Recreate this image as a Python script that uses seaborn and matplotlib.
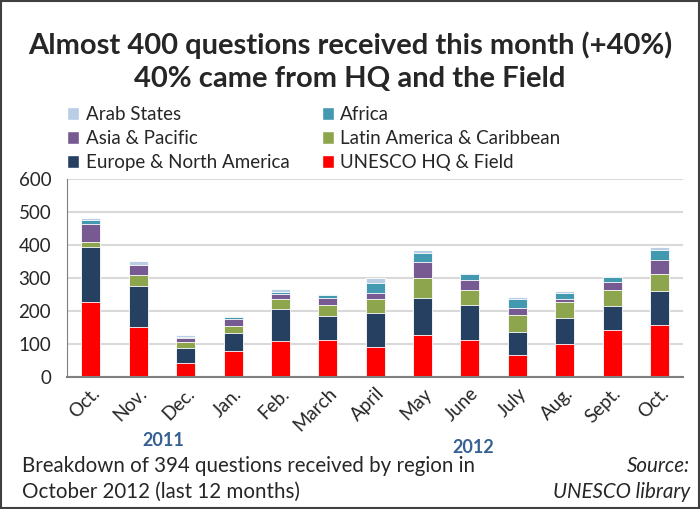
import matplotlib
matplotlib.use("Agg")
import matplotlib.pyplot as plt
from matplotlib.patches import Patch, Rectangle
import numpy as np
import pandas as pd
import seaborn as sns

months = ["Oct.", "Nov.", "Dec.", "Jan.", "Feb.", "March", "April", "May",
          "June", "July", "Aug.", "Sept.", "Oct."]
unesco = [227, 151, 42, 78, 110, 113, 92, 128, 114, 67, 100, 144, 158]
europe = [167, 125, 46, 56, 96, 72, 103, 112, 104, 69, 79, 72, 102]
latin = [15, 35, 20, 22, 30, 33, 43, 62, 47, 51, 48, 49, 54]
asia = [56, 28, 10, 19, 15, 22, 17, 47, 29, 24, 10, 24, 41]
africa = [10, 0, 4, 6, 7, 8, 29, 28, 19, 27, 18, 15, 30]
arab = [8, 12, 5, 4, 10, 4, 17, 7, 2, 4, 6, 2, 9]

series = ["UNESCO HQ & Field", "Europe & North America", "Latin America & Caribbean",
          "Asia & Pacific", "Africa", "Arab States"]
values = [unesco, europe, latin, asia, africa, arab]
colors = ["#ff0000", "#254061", "#8da64d", "#765a91", "#4399b0", "#b9cde5"]

sns.set_style("white")
plt.rcParams["font.family"] = ["Lato", "DejaVu Sans"]

fig = plt.figure(figsize=(7, 5.09), dpi=100)
ax = fig.add_axes([0.096, 0.259, 0.88, 0.389])

pos = [f"{i:02d}" for i in range(len(months))]
cum = np.cumsum(np.array(values), axis=0)
# draw tallest cumulative first, smaller ones on top
for k in range(len(series) - 1, -1, -1):
    df = pd.DataFrame({"m": pos, "v": cum[k]})
    sns.barplot(data=df, x="m", y="v", color=colors[k], width=0.4,
                edgecolor="white", linewidth=0.6, saturation=1, ax=ax)

ax.set_ylim(0, 600)
ax.set_yticks(range(0, 601, 100))
ax.yaxis.grid(True, color="#d9d9d9", linewidth=1.5)
ax.set_axisbelow(True)
ax.set_xlabel("")
ax.set_ylabel("")
ax.set_xticks(range(len(months)))
ax.set_xticklabels(months, rotation=45, ha="right", rotation_mode="anchor", fontsize=13.5)
ax.tick_params(axis="y", labelsize=13.5, pad=8)
ax.tick_params(axis="x", pad=2)
for s in ["top", "right"]:
    ax.spines[s].set_visible(False)
ax.spines["left"].set_color("#7f7f7f")
ax.spines["bottom"].set_color("#7f7f7f")
ax.spines["bottom"].set_linewidth(1.5)

fig.text(0.5, 0.912, "Almost 400 questions received this month (+40%)",
         ha="center", va="center", fontsize=21, fontweight="bold")
fig.text(0.5, 0.845, "40% came from HQ and the Field",
         ha="center", va="center", fontsize=21, fontweight="bold")

lkw = dict(frameon=False, fontsize=13.5, handlelength=0.65, handleheight=0.65,
           handletextpad=0.35, labelspacing=0.38, borderpad=0, loc="upper left")
h1 = [Patch(facecolor=colors[i], label=series[i]) for i in [5, 3, 1]]
h2 = [Patch(facecolor=colors[i], label=series[i]) for i in [4, 2, 0]]
fig.legend(handles=h1, bbox_to_anchor=(0.082, 0.81), **lkw)
fig.legend(handles=h2, bbox_to_anchor=(0.446, 0.81), **lkw)

fig.text(0.233, 0.135, "2011", ha="center", va="center", fontsize=13,
         fontweight="bold", color="#366092")
fig.text(0.676, 0.121, "2012", ha="center", va="center", fontsize=13,
         fontweight="bold", color="#366092")

fig.text(0.031, 0.085, "Breakdown of 394 questions received by region in",
         ha="left", va="center", fontsize=14.8)
fig.text(0.031, 0.033, "October 2012 (last 12 months)",
         ha="left", va="center", fontsize=14.8)
fig.text(0.986, 0.085, "Source:", ha="right", va="center", fontsize=14.8, style="italic")
fig.text(0.986, 0.033, "UNESCO library", ha="right", va="center", fontsize=14.8,
         style="italic")

fig.patches.append(Rectangle((0.002, 0.002), 0.996, 0.996, transform=fig.transFigure,
                             fill=False, edgecolor="#404040", linewidth=1.5))

fig.savefig("out.png", dpi=100)
